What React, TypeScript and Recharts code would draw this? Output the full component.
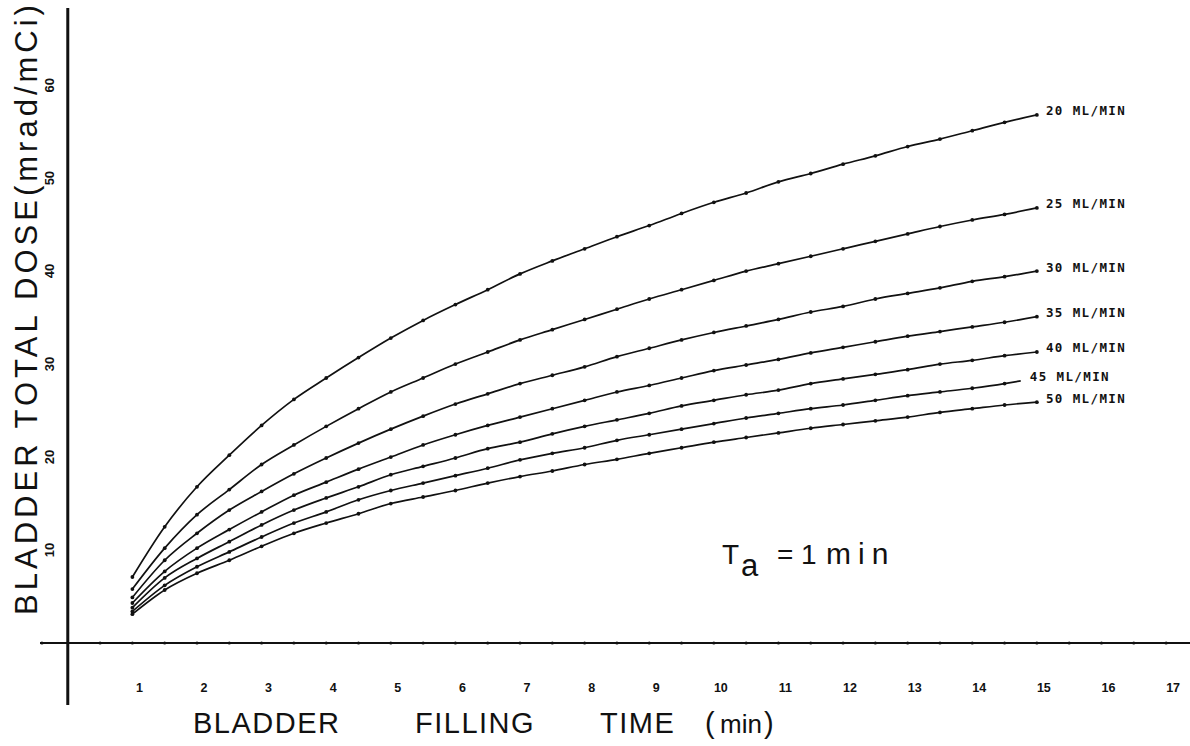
import { LineChart, Line, XAxis, YAxis, ReferenceLine, LabelList } from "recharts";

// filling time (min), a point every half minute
const X_VALUES = [
  1, 1.5, 2, 2.5, 3, 3.5, 4, 4.5, 5, 5.5, 6, 6.5, 7, 7.5, 8, 8.5, 9, 9.5, 10, 10.5, 11,
  11.5, 12, 12.5, 13, 13.5, 14, 14.5, 15,
];
// the 45 mL/min curve stops a little short of 15
const X_VALUES_45 = [
  1, 1.5, 2, 2.5, 3, 3.5, 4, 4.5, 5, 5.5, 6, 6.5, 7, 7.5, 8, 8.5, 9, 9.5, 10, 10.5, 11,
  11.5, 12, 12.5, 13, 13.5, 14, 14.5, 14.75,
];

// bladder total dose (mrad/mCi) per filling rate
const DOSE_20 = [
  7.1, 12.5, 16.8, 20.2, 23.4, 26.2, 28.5, 30.7, 32.8, 34.7, 36.4, 38.0, 39.7, 41.1, 42.4,
  43.7, 44.9, 46.2, 47.4, 48.4, 49.6, 50.5, 51.5, 52.4, 53.4, 54.2, 55.1, 56.0, 56.8,
];
const DOSE_25 = [
  5.8, 10.2, 13.8, 16.5, 19.2, 21.3, 23.3, 25.2, 27.0, 28.5, 30.0, 31.3, 32.6, 33.7, 34.8,
  35.9, 37.0, 38.0, 39.0, 40.0, 40.8, 41.6, 42.4, 43.2, 44.0, 44.8, 45.5, 46.1, 46.8,
];
const DOSE_30 = [
  4.9, 8.9, 11.8, 14.3, 16.3, 18.2, 19.9, 21.5, 23.0, 24.4, 25.7, 26.8, 27.9, 28.8, 29.7,
  30.8, 31.7, 32.6, 33.4, 34.1, 34.8, 35.6, 36.2, 37.0, 37.6, 38.2, 38.9, 39.4, 40.0,
];
const DOSE_35 = [
  4.3, 7.7, 10.2, 12.2, 14.1, 15.9, 17.3, 18.7, 20.0, 21.3, 22.4, 23.4, 24.3, 25.2, 26.1,
  27.0, 27.7, 28.5, 29.3, 29.9, 30.5, 31.2, 31.8, 32.4, 33.0, 33.5, 34.0, 34.5, 35.1,
];
const DOSE_40 = [
  3.8, 7.0, 9.1, 10.9, 12.7, 14.3, 15.6, 16.8, 18.1, 19.0, 19.9, 20.9, 21.6, 22.5, 23.3,
  24.0, 24.7, 25.5, 26.1, 26.7, 27.2, 27.9, 28.4, 28.9, 29.4, 30.0, 30.4, 30.9, 31.3,
];
const DOSE_45 = [
  3.4, 6.2, 8.2, 9.8, 11.4, 12.9, 14.1, 15.4, 16.4, 17.2, 18.0, 18.8, 19.7, 20.4, 21.0,
  21.8, 22.4, 23.0, 23.6, 24.2, 24.7, 25.2, 25.6, 26.1, 26.6, 27.0, 27.4, 27.9, 28.2,
];
const DOSE_50 = [
  3.1, 5.7, 7.5, 8.9, 10.4, 11.8, 12.9, 13.9, 15.0, 15.7, 16.4, 17.2, 17.9, 18.5, 19.2,
  19.75, 20.4, 21.0, 21.6, 22.1, 22.6, 23.1, 23.5, 23.9, 24.3, 24.8, 25.2, 25.6, 25.9,
];

const X_TICKS = [1, 2, 3, 4, 5, 6, 7, 8, 9, 10, 11, 12, 13, 14, 15, 16, 17];
const Y_TICKS = [10, 20, 30, 40, 50, 60];
// little beads drawn along the time axis
const X_AXIS_BEADS = [
  -0.4, 0.5, 1, 1.5, 2, 2.5, 3, 3.5, 4, 4.5, 5, 5.5, 6, 6.5, 7, 7.5, 8, 8.5, 9, 9.5, 10,
  10.5, 11, 11.5, 12, 12.5, 13, 13.5, 14, 14.5, 15, 15.5, 16, 16.5, 17,
];

const SERIES = [
  { label: "20 ML/MIN", xs: X_VALUES, ys: DOSE_20 },
  { label: "25 ML/MIN", xs: X_VALUES, ys: DOSE_25 },
  { label: "30 ML/MIN", xs: X_VALUES, ys: DOSE_30 },
  { label: "35 ML/MIN", xs: X_VALUES, ys: DOSE_35 },
  { label: "40 ML/MIN", xs: X_VALUES, ys: DOSE_40 },
  { label: "45 ML/MIN", xs: X_VALUES_45, ys: DOSE_45 },
  { label: "50 ML/MIN", xs: X_VALUES, ys: DOSE_50 },
];

const INK = "#111";
const FONT = "'Liberation Sans', Arial, sans-serif";

const halfStep = (x: number) => Number.isInteger(x * 2);

function Dot(props: any) {
  const { cx, cy, payload, index } = props;
  if (cx == null || cy == null || !halfStep(payload.x)) return <g key={index} />;
  return <circle key={index} cx={cx} cy={cy} r={1.9} fill={INK} />;
}

const endLabel = (text: string, last: number) => (props: any) => {
  const { x, y, index } = props;
  if (index !== last) return null;
  return (
    <text
      x={x + 9}
      y={y - 4}
      dominantBaseline="central"
      fontFamily="'DejaVu Sans Mono', monospace"
      fontWeight="bold"
      fontSize={12.5}
      letterSpacing={1.4}
      fill={INK}
    >
      {text}
    </text>
  );
};

function XTick(props: any) {
  const { x, y, payload } = props;
  return (
    <text
      x={x + 7}
      y={y - 13}
      textAnchor="middle"
      fontFamily={FONT}
      fontWeight="bold"
      fontSize={12.5}
      fill={INK}
    >
      {payload.value}
    </text>
  );
}

function YTick(props: any) {
  const { x, y, payload } = props;
  const cx = x + 10;
  return (
    <text
      x={cx}
      y={y}
      textAnchor="middle"
      dominantBaseline="central"
      transform={`rotate(-90 ${cx} ${y})`}
      fontFamily={FONT}
      fontWeight="bold"
      fontSize={13}
      fill={INK}
    >
      {payload.value}
    </text>
  );
}

export default function App() {
  const beads = X_AXIS_BEADS.map((x) => ({ x, y: 0 }));

  return (
    <div style={{ position: "absolute", left: 0, top: 0, width: 1190, height: 746, background: "#fff" }}>
      <LineChart width={1190} height={746} margin={{ top: 8, right: 0, left: 10, bottom: 11 }}>
        <XAxis
          type="number"
          dataKey="x"
          domain={[-0.43, 17.37]}
          allowDataOverflow
          ticks={X_TICKS}
          interval={0}
          height={30}
          axisLine={false}
          tickLine={false}
          tickSize={0}
          tickMargin={0}
          tick={(p: any) => <XTick {...p} />}
        />
        <YAxis
          type="number"
          dataKey="y"
          domain={[-6.67, 68.3]}
          allowDataOverflow
          ticks={Y_TICKS}
          interval={0}
          width={30}
          axisLine={false}
          tickLine={false}
          tickSize={0}
          tickMargin={0}
          tick={(p: any) => <YTick {...p} />}
        />
        <ReferenceLine y={0} stroke={INK} strokeWidth={1.8} />
        <ReferenceLine x={0} stroke={INK} strokeWidth={3} />
        <Line
          data={beads}
          dataKey="y"
          stroke="none"
          dot={{ r: 1.6, fill: INK, stroke: "none" }}
          isAnimationActive={false}
          legendType="none"
        />
        {SERIES.map((s) => {
          const data = s.xs.map((x, i) => ({ x, y: s.ys[i] }));
          return (
            <Line
              key={s.label}
              data={data}
              dataKey="y"
              type="monotone"
              stroke={INK}
              strokeWidth={1.7}
              dot={<Dot />}
              isAnimationActive={false}
            >
              <LabelList dataKey="y" content={endLabel(s.label, data.length - 1)} />
            </Line>
          );
        })}
      </LineChart>
      <svg
        width={1190}
        height={746}
        style={{ position: "absolute", left: 0, top: 0, pointerEvents: "none" }}
      >
        <text
          x={37}
          y={308}
          textAnchor="middle"
          transform="rotate(-90 37 308)"
          fontFamily={FONT}
          fontSize={31}
          letterSpacing={4}
          fill={INK}
        >
          BLADDER TOTAL DOSE(mrad/mCi)
        </text>
        <text y={733} fontFamily={FONT} fontSize={29} letterSpacing={1.5} fill={INK}>
          <tspan x={193}>BLADDER</tspan>
          <tspan x={415}>FILLING</tspan>
          <tspan x={600}>TIME</tspan>
          <tspan x={705}>(</tspan>
          <tspan x={720} fontSize={26} letterSpacing={0}>min</tspan>
          <tspan x={764}>)</tspan>
        </text>
        <text y={564} fontFamily={FONT} fontSize={28} fill={INK}>
          <tspan x={722}>T</tspan>
          <tspan x={741} dy={12} fontSize={31}>a</tspan>
          <tspan x={777} dy={-12}>=</tspan>
          <tspan x={801}>1</tspan>
          <tspan x={826} fontSize={30} letterSpacing={7}>min</tspan>
        </text>
      </svg>
    </div>
  );
}
